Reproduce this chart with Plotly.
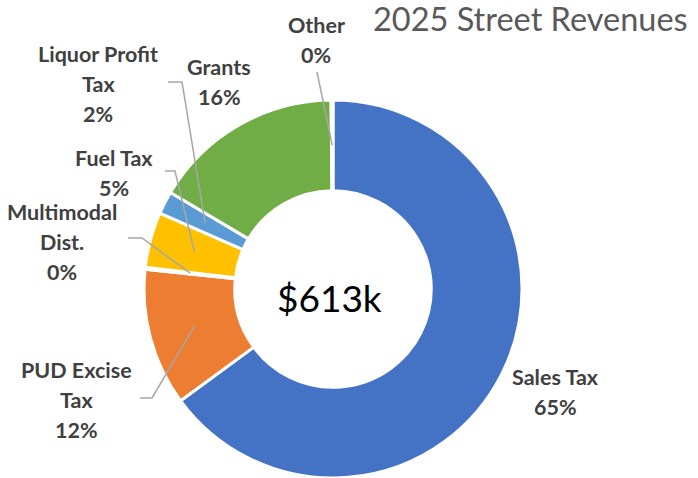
import math
import plotly.graph_objects as go

# ---- data ----
categories = ["Sales Tax", "PUD Excise Tax", "Multimodal Dist.", "Fuel Tax",
              "Liquor Profit Tax", "Grants", "Other"]
values_k = [398, 72, 1, 29, 12, 100, 1]          # $ thousands
label_lines = [["Sales Tax"], ["PUD Excise", "Tax"], ["Multimodal", "Dist."],
               ["Fuel Tax"], ["Liquor Profit", "Tax"], ["Grants"], ["Other"]]
colors = ["#4472C4", "#ED7D31", "#A5A5A5", "#FFC000", "#5B9BD5", "#70AD47", "#264478"]
title_text = "2025 Street Revenues"

# ---- layout constants (pixels) ----
W, H = 698, 478
CX, CY, R = 333, 289, 189
HOLE = 0.52
FONT = "Lato"
LABEL_COLOR = "#404040"
LINE_H = 30

# label first-line centres and leader elbows (styling / placement)
label_pos = {
    "Sales Tax": (555, 377),
    "PUD Excise Tax": (76, 370),
    "Multimodal Dist.": (62, 212),
    "Fuel Tax": (114, 158),
    "Liquor Profit Tax": (98, 54),
    "Grants": (219, 67),
    "Other": (316, 25),
}
leaders = {  # start point, elbow point (px); end at slice middle
    "PUD Excise Tax": [(140, 398), (152, 398)],
    "Multimodal Dist.": [(128, 238), (142, 238)],
    "Fuel Tax": [(165, 171), (175, 171)],
    "Liquor Profit Tax": [(168, 82), (182, 82)],
    "Other": [(317, 72), (317, 72)],
}

def px(x):
    return x / W

def py(y):
    return 1 - y / H

total = sum(values_k)
fig = go.Figure(go.Pie(
    labels=categories, values=values_k, sort=False, direction="clockwise",
    rotation=0, hole=HOLE, textinfo="none", hoverinfo="label+value+percent",
    marker=dict(colors=colors, line=dict(color="white", width=3)),
    domain=dict(x=[px(CX - R), px(CX + R)], y=[0, (2 * R) / H]),
    showlegend=False,
))

annotations = []
shapes = []
cum = 0.0
rmid = R * (1 + HOLE) / 2
for cat, v, lines in zip(categories, values_k, label_lines):
    a0 = cum / total * 360
    cum += v
    a1 = cum / total * 360
    am = math.radians((a0 + a1) / 2)
    ex = CX + rmid * math.sin(am)
    ey = CY - rmid * math.cos(am)
    pct = round(v / total * 100)
    lx, ly = label_pos[cat]
    for i, t in enumerate(lines + [f"{pct}%"]):
        annotations.append(dict(
            x=px(lx), y=py(ly + i * LINE_H), xref="paper", yref="paper",
            text=f"<b>{t}</b>", showarrow=False, xanchor="center", yanchor="middle",
            font=dict(family=FONT, size=21.5, color=LABEL_COLOR)))
    if cat in leaders:
        (sx, sy), (bx, by) = leaders[cat]
        path = f"M {px(sx)} {py(sy)} L {px(bx)} {py(by)} L {px(ex)} {py(ey)}"
        shapes.append(dict(type="path", xref="paper", yref="paper", path=path,
                           line=dict(color="#A6A6A6", width=1.5)))

annotations.append(dict(x=px(329), y=py(CY + 8), xref="paper", yref="paper",
                        text=f"${total}k", showarrow=False, xanchor="center",
                        yanchor="middle", font=dict(family=FONT, size=37, color="#000000")))
annotations.append(dict(x=px(690), y=py(18), xref="paper", yref="paper",
                        text=title_text, showarrow=False, xanchor="right",
                        yanchor="middle", font=dict(family=FONT, size=32.5, color="#595959")))

fig.update_layout(
    width=W, height=H, margin=dict(l=0, r=0, t=0, b=0),
    paper_bgcolor="white", plot_bgcolor="white",
    annotations=annotations, shapes=shapes,
)
fig.write_html("out.html", config={"displayModeBar": False},
               post_script="document.body.style.margin='0';")
